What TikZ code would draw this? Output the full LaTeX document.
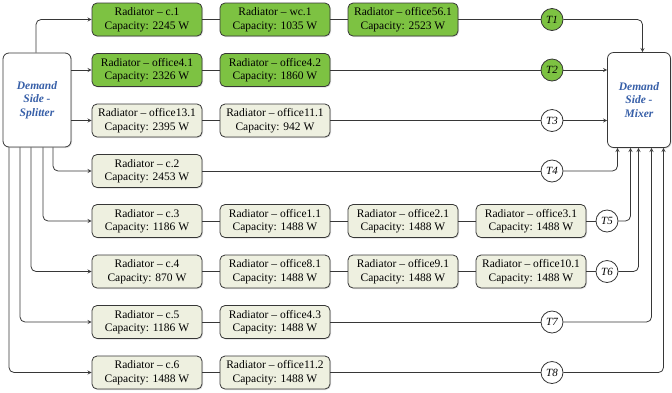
\documentclass[tikz,border=0pt]{standalone}
\usepackage{fontspec}
\setmainfont{Liberation Serif}
\usepackage{tikz}
\usepackage{xcolor}
\usetikzlibrary{shadows}

\definecolor{radgreen}{RGB}{125,194,66}
\definecolor{radpale}{RGB}{238,240,224}
\definecolor{edgegray}{RGB}{55,55,55}
\definecolor{labelblue}{RGB}{55,95,168}

\begin{document}
\begin{tikzpicture}[
    x=1pt, y=-1pt,
    node distance=128pt,
    radiator/.style={draw=edgegray, line width=0.8pt, rectangle, rounded corners=5pt, minimum width=110pt, minimum height=33pt, inner sep=1pt, align=center, font=\fontsize{11.5}{13.5}\selectfont, drop shadow={opacity=0.25, shadow xshift=1pt, shadow yshift=-1pt}},
    hot/.style={radiator, fill=radgreen},
    cold/.style={radiator, fill=radpale},
    sensor/.style={draw=edgegray, line width=0.8pt, circle, fill=white, minimum size=22pt, inner sep=0pt, font=\itshape\fontsize{11}{13}\selectfont},
    header/.style={draw=edgegray, line width=0.8pt, rectangle, rounded corners=6pt, fill=white, text=labelblue, align=center, font=\bfseries\itshape\fontsize{11.5}{13.5}\selectfont, drop shadow={opacity=0.25, shadow xshift=1pt, shadow yshift=-1pt}},
    arrow/.style={->, >=stealth, line width=0.8pt, draw=edgegray},
    link/.style={line width=0.8pt, draw=edgegray}
]
    \useasboundingbox (0,0) rectangle (672,392);

    % Nodes
    \node[header, minimum width=68pt, minimum height=94pt] (splitter) at (37,100) {Demand\\Side -\\Splitter};
    \node[header, minimum width=63pt, minimum height=95pt] (mixer) at (639,100) {Demand\\Side -\\Mixer};

    \node[hot] (c1) at (147,19.5) {Radiator -- c.1\\Capacity: 2245 W};
    \node[hot, right of=c1] (wc1) {Radiator -- wc.1\\Capacity: 1035 W};
    \node[hot, right of=wc1] (off561) {Radiator -- office56.1\\Capacity: 2523 W};
    \node[sensor, fill=radgreen] (t1) at (552,19.5) {T1};

    \node[hot] (off41) at (147,70) {Radiator -- office4.1\\Capacity: 2326 W};
    \node[hot, right of=off41] (off42) {Radiator -- office4.2\\Capacity: 1860 W};
    \node[sensor, fill=radgreen] (t2) at (552,70) {T2};

    \node[cold] (off131) at (147,120.5) {Radiator -- office13.1\\Capacity: 2395 W};
    \node[cold, right of=off131] (off111) {Radiator -- office11.1\\Capacity: 942 W};
    \node[sensor] (t3) at (552,120.5) {T3};

    \node[cold] (c2) at (147,171) {Radiator -- c.2\\Capacity: 2453 W};
    \node[sensor] (t4) at (552,171) {T4};

    \node[cold] (c3) at (147,221) {Radiator -- c.3\\Capacity: 1186 W};
    \node[cold, right of=c3] (off11) {Radiator -- office1.1\\Capacity: 1488 W};
    \node[cold, right of=off11] (off21) {Radiator -- office2.1\\Capacity: 1488 W};
    \node[cold, right of=off21] (off31) {Radiator -- office3.1\\Capacity: 1488 W};
    \node[sensor] (t5) at (607,221) {T5};

    \node[cold] (c4) at (147,271.5) {Radiator -- c.4\\Capacity: 870 W};
    \node[cold, right of=c4] (off81) {Radiator -- office8.1\\Capacity: 1488 W};
    \node[cold, right of=off81] (off91) {Radiator -- office9.1\\Capacity: 1488 W};
    \node[cold, right of=off91] (off101) {Radiator -- office10.1\\Capacity: 1488 W};
    \node[sensor] (t6) at (607,271.5) {T6};

    \node[cold] (c5) at (147,322) {Radiator -- c.5\\Capacity: 1186 W};
    \node[cold, right of=c5] (off43) {Radiator -- office4.3\\Capacity: 1488 W};
    \node[sensor] (t7) at (552,322) {T7};

    \node[cold] (c6) at (147,372.5) {Radiator -- c.6\\Capacity: 1488 W};
    \node[cold, right of=c6] (off112) {Radiator -- office11.2\\Capacity: 1488 W};
    \node[sensor] (t8) at (552,372.5) {T8};

    % Splitter outlets
    \draw[arrow, rounded corners=5pt] ([xshift=-1pt]splitter.north) |- (c1);
    \draw[arrow] (splitter.east |- off41) -- (off41);
    \draw[arrow] (splitter.east |- off131) -- (off131);
    \draw[arrow, rounded corners=5pt] ([xshift=16pt]splitter.south) |- (c2);
    \draw[arrow, rounded corners=5pt] ([xshift=6pt]splitter.south) |- (c3);
    \draw[arrow, rounded corners=5pt] ([xshift=-6pt]splitter.south) |- (c4);
    \draw[arrow, rounded corners=5pt] ([xshift=-17pt]splitter.south) |- (c5);
    \draw[arrow, rounded corners=5pt] ([xshift=-28pt]splitter.south) |- (c6);

    % Radiator chains
    \draw[link] (c1) -- (wc1);
    \draw[link] (wc1) -- (off561);
    \draw[link] (off561) -- (t1);
    \draw[link] (off41) -- (off42);
    \draw[link] (off42) -- (t2);
    \draw[link] (off131) -- (off111);
    \draw[link] (off111) -- (t3);
    \draw[link] (c2) -- (t4);
    \draw[link] (c3) -- (off11);
    \draw[link] (off11) -- (off21);
    \draw[link] (off21) -- (off31);
    \draw[link] (off31) -- (t5);
    \draw[link] (c4) -- (off81);
    \draw[link] (off81) -- (off91);
    \draw[link] (off91) -- (off101);
    \draw[link] (off101) -- (t6);
    \draw[link] (c5) -- (off43);
    \draw[link] (off43) -- (t7);
    \draw[link] (c6) -- (off112);
    \draw[link] (off112) -- (t8);

    % Mixer inlets
    \draw[arrow, rounded corners=5pt] (t1) -| ([xshift=3.5pt]mixer.north);
    \draw[arrow] (t2) -- (mixer.west |- t2);
    \draw[arrow] (t3) -- (mixer.west |- t3);
    \draw[arrow, rounded corners=5pt] (t4) -| ([xshift=-21.5pt]mixer.south);
    \draw[arrow, rounded corners=5pt] (t5) -| ([xshift=-8.5pt]mixer.south);
    \draw[arrow, rounded corners=5pt] (t6) -| ([xshift=-0.5pt]mixer.south);
    \draw[arrow, rounded corners=5pt] (t7) -| ([xshift=12.5pt]mixer.south);
    \draw[arrow, rounded corners=5pt] (t8) -| ([xshift=24.5pt]mixer.south);
\end{tikzpicture}
\end{document}
